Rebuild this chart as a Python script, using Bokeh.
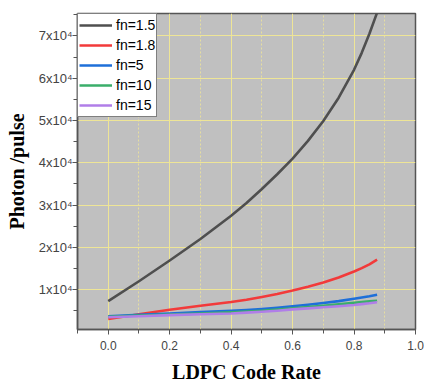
from bokeh.plotting import figure
from bokeh.models import FixedTicker, CustomJSTickFormatter, Range1d
from bokeh.embed import file_html
from bokeh.resources import INLINE

rate = [0.0, 0.1, 0.2, 0.3, 0.4, 0.45, 0.5, 0.55, 0.6, 0.65, 0.7, 0.75, 0.8, 0.825, 0.85, 0.875]
fn_1_5 = [7300, 12000, 16900, 22000, 27500, 30500, 33800, 37300, 41000, 45200, 49900, 55400, 62000, 66000, 70500, 75500]
fn_1_8 = [3100, 4200, 5250, 6200, 7100, 7650, 8300, 9000, 9800, 10700, 11700, 12900, 14300, 15100, 16000, 17100]
fn_5 = [3700, 4050, 4400, 4700, 5000, 5200, 5450, 5750, 6100, 6450, 6850, 7300, 7850, 8150, 8450, 8800]
fn_10 = [3600, 3900, 4150, 4400, 4650, 4850, 5050, 5300, 5600, 5900, 6200, 6550, 6900, 7100, 7250, 7400]
fn_15 = [3500, 3750, 4000, 4200, 4400, 4600, 4800, 5050, 5350, 5600, 5850, 6100, 6400, 6600, 6800, 7050]

series = [
    ("fn=1.5", fn_1_5, "#4f4f4f"),
    ("fn=1.8", fn_1_8, "#f23a3a"),
    ("fn=5", fn_5, "#1e6fd9"),
    ("fn=10", fn_10, "#3aae6a"),
    ("fn=15", fn_15, "#b07ee8"),
]

x_major = [0.0, 0.2, 0.4, 0.6, 0.8, 1.0]
x_minor = [-0.1, 0.1, 0.3, 0.5, 0.7, 0.9]
y_major = [10000, 20000, 30000, 40000, 50000, 60000, 70000]
y_minor = [5000, 15000, 25000, 35000, 45000, 55000, 65000, 75000]

p = figure(width=424, height=387, x_range=Range1d(-0.1, 1.0), y_range=Range1d(600, 75300),
           output_backend="svg", toolbar_location=None,
           min_border_left=77, min_border_right=9, min_border_top=13, min_border_bottom=58)

p.background_fill_color = "#c0c0c0"
p.border_fill_color = "white"
p.outline_line_color = "#555555"
p.outline_line_width = 1.5

for label, ys, color in series:
    p.line(rate, ys, line_color=color, line_width=2.6, line_join="round", legend_label=label)

xt = FixedTicker(ticks=x_major, minor_ticks=x_minor)
yt = FixedTicker(ticks=y_major, minor_ticks=y_minor)
p.xaxis.ticker = xt
p.yaxis.ticker = yt
p.xgrid.ticker = xt
p.ygrid.ticker = yt

p.xgrid.grid_line_color = "#eee596"
p.xgrid.grid_line_width = 1
p.xgrid.minor_grid_line_color = "#e6dea0"
p.xgrid.minor_grid_line_dash = "2 2"
p.ygrid.grid_line_color = "#eee596"
p.ygrid.grid_line_width = 1

p.yaxis.formatter = CustomJSTickFormatter(code="return (tick/10000).toFixed(0) + 'x10\u2074';")
p.xaxis.formatter = CustomJSTickFormatter(code="return tick.toFixed(1);")

for ax in (p.xaxis[0], p.yaxis[0]):
    ax.axis_line_color = "#555555"
    ax.axis_line_width = 1.5
    ax.major_tick_line_color = "#555555"
    ax.minor_tick_line_color = "#555555"
    ax.major_tick_in = 0
    ax.minor_tick_in = 0
    ax.major_tick_out = 5
    ax.minor_tick_out = 4
    ax.major_label_text_color = "#444444"
    ax.major_label_text_font = "Liberation Sans"
    ax.axis_label_text_font = "Liberation Serif"
    ax.axis_label_text_font_style = "bold"
    ax.axis_label_text_font_size = "20px"
    ax.axis_label_text_color = "black"

p.xaxis.major_label_text_font_size = "12px"
p.yaxis.major_label_text_font_size = "13px"
p.xaxis.major_label_standoff = 6
p.yaxis.major_label_standoff = 0
p.xaxis.axis_label = "LDPC Code Rate"
p.yaxis.axis_label = "Photon /pulse"
p.xaxis.axis_label_standoff = 8
p.yaxis.axis_label_standoff = 8

lg = p.legend[0]
lg.location = "top_left"
lg.margin = 0
lg.padding = 1
lg.spacing = 0
lg.label_standoff = 4
lg.glyph_width = 33
lg.glyph_height = 20
lg.label_height = 20
lg.border_line_color = "black"
lg.border_line_width = 1
lg.background_fill_color = "white"
lg.background_fill_alpha = 1
lg.label_text_font = "Liberation Sans"
lg.label_text_font_size = "14px"
lg.label_text_color = "black"

open("out.html", "w").write(file_html(p, INLINE))
